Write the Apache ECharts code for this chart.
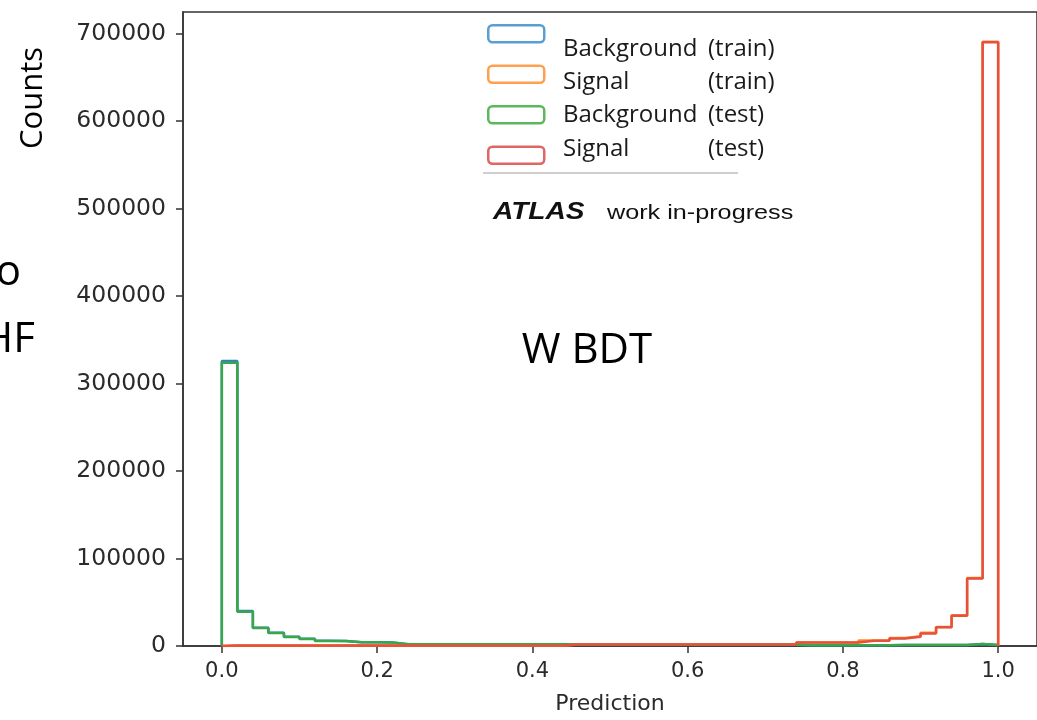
<!DOCTYPE html>
<html>
<head>
<meta charset="utf-8">
<script src="https://cdn.jsdelivr.net/npm/echarts@6/dist/echarts.min.js"></script>
<style>
  html, body { margin: 0; padding: 0; background: #fff; }
  #chart { width: 1037px; height: 720px; }
</style>
</head>
<body>
<div id="chart"></div>
<script>
// ---- Data ----
const binWidth = 0.02;
const binCount = 50;
const xTicks = [0, 0.2, 0.4, 0.6, 0.8, 1.0];
const yTicks = [0, 100000, 200000, 300000, 400000, 500000, 600000, 700000];
const seriesNames = ['Background (train)', 'Signal (train)', 'Background (test)', 'Signal (test)'];

// Background (train), 50 bins of width 0.02 from 0 to 1
const bkgTrain = [
  325600, 40000, 20900, 15000, 10500, 8200, 5900, 5800, 4300, 4200,
  4100, 1900, 1900, 1900, 1900, 1900, 1900, 1900, 1900, 1900,
  1900, 1900, 1400, 1400, 1400, 1400, 1400, 1400, 1400, 1400,
  1400, 1400, 1400, 1400, 1400, 1400, 1400, 800, 800, 800,
  800, 800, 800, 1100, 1100, 1100, 1100, 1100, 2200, 1200
];
// Signal (train)
const sigTrain = [
  700, 700, 700, 700, 700, 700, 700, 700, 700, 700,
  700, 700, 700, 700, 700, 700, 700, 700, 700, 700,
  700, 700, 1800, 1800, 1800, 1800, 1800, 1800, 1800, 1800,
  1800, 1800, 1800, 1800, 1800, 1800, 1800, 4100, 4100, 4100,
  4100, 6400, 6400, 9200, 11200, 15000, 21700, 35000, 77600, 690500
];
// Background (test)
const bkgTest = [
  323800, 39000, 20500, 14800, 10300, 8000, 5700, 5700, 4200, 4200,
  4100, 1900, 1900, 1900, 1900, 1900, 1900, 1900, 1900, 1900,
  1900, 1900, 1400, 1400, 1400, 1400, 1400, 1400, 1400, 1400,
  1400, 1400, 1400, 1400, 1400, 1400, 1400, 800, 800, 800,
  800, 800, 800, 1100, 1100, 1100, 1100, 1100, 2200, 1200
];
// Signal (test)
const sigTest = [
  700, 700, 700, 700, 700, 700, 700, 700, 700, 700,
  700, 700, 700, 700, 700, 700, 700, 700, 700, 700,
  700, 700, 1700, 1700, 1700, 1700, 1700, 1700, 1700, 1700,
  1700, 1700, 1700, 1700, 1700, 1700, 1700, 4000, 4000, 4000,
  4000, 6100, 6100, 8700, 10600, 14400, 21300, 34600, 77200, 690000
];

const colors = ['#2f80bf', '#ff8a24', '#3aa64a', '#e6503c'];
const legendColors = ['#5a9fd4', '#ffa050', '#5cb85c', '#e06666'];

// histogram step path: points at the left edge of each bin, closed at the last edge
function stepPoints(vals) {
  const pts = [[0, 0]];
  for (let i = 0; i < vals.length; i++) pts.push([i * binWidth, vals[i]]);
  pts.push([binCount * binWidth, vals[vals.length - 1]]);
  pts.push([binCount * binWidth, 0]);
  return pts;
}

const allVals = [bkgTrain, sigTrain, bkgTest, sigTest];

const chart = echarts.init(document.getElementById('chart'), null, { renderer: 'canvas' });

const option = {
  backgroundColor: '#ffffff',
  animation: false,
  grid: {
    left: 183, top: 12, width: 857, height: 635,
    show: true, borderColor: '#333', borderWidth: 1.5, backgroundColor: 'transparent'
  },
  xAxis: {
    type: 'value', min: -0.05, max: 1.05,
    splitLine: { show: false },
    axisLine: { show: true, onZero: false, lineStyle: { color: '#333', width: 1.5 } },
    axisTick: { show: true, customValues: xTicks, length: 7, lineStyle: { color: '#333', width: 1.5 } },
    axisLabel: {
      customValues: xTicks, margin: 15,
      formatter: v => v.toFixed(1),
      fontFamily: 'DejaVu Sans', fontSize: 21, color: '#2a2a2a'
    },
    name: 'Prediction', nameLocation: 'middle', nameGap: 47,
    nameTextStyle: { fontFamily: 'DejaVu Sans', fontSize: 22, color: '#2a2a2a' }
  },
  yAxis: {
    type: 'value', min: 0, max: 724500,
    splitLine: { show: false },
    axisLine: { show: true, onZero: false, lineStyle: { color: '#333', width: 1.5 } },
    axisTick: { show: true, customValues: yTicks, length: 7, lineStyle: { color: '#333', width: 1.5 } },
    axisLabel: {
      customValues: yTicks, margin: 17,
      formatter: v => String(v),
      fontFamily: 'DejaVu Sans', fontSize: 23.5, color: '#2a2a2a'
    }
  },
  legend: [
    {
      orient: 'vertical', left: 487, top: 24, padding: 0,
      itemWidth: 56, itemHeight: 17, itemGap: 21,
      formatter: () => '',
      textStyle: { fontSize: 1 },
      data: seriesNames.map((n, i) => ({
        name: n, icon: 'roundRect',
        itemStyle: { color: 'rgba(255,255,255,0)', borderColor: legendColors[i], borderWidth: 2.5 }
      }))
    },
    {
      orient: 'vertical', left: 552, top: 31,
      itemWidth: 1, itemHeight: 1, itemGap: 7.3,
      formatter: name => {
        const idx = name.indexOf(' (');
        return '{a|' + name.slice(0, idx) + '}{b|' + name.slice(idx + 1) + '}';
      },
      textStyle: {
        fontFamily: 'Open Sans', fontSize: 24, color: '#1a1a1a', lineHeight: 26,
        rich: {
          a: { width: 145, fontFamily: 'Open Sans', fontSize: 24, color: '#1a1a1a', lineHeight: 26 },
          b: { fontFamily: 'Open Sans', fontSize: 24, color: '#1a1a1a', lineHeight: 26 }
        }
      },
      data: seriesNames.map(n => ({
        name: n, icon: 'rect',
        itemStyle: { color: 'rgba(255,255,255,0)', borderWidth: 0 }
      }))
    }
  ],
  graphic: [
    { type: 'line', shape: { x1: 483, y1: 173, x2: 738, y2: 173 }, style: { stroke: '#cfcfcf', lineWidth: 2 } },
    { type: 'text', x: 493, y: 212, scaleX: 1.17,
      style: { text: 'ATLAS', font: 'italic bold 24px "Liberation Sans"', fill: '#111', textVerticalAlign: 'middle' } },
    { type: 'text', x: 607, y: 213, scaleX: 1.2,
      style: { text: 'work in-progress', font: '21px "Liberation Sans"', fill: '#111', textVerticalAlign: 'middle' } },
    { type: 'text', x: 587, y: 351,
      style: { text: 'W BDT', font: '42px "Open Sans"', fill: '#000', textAlign: 'center', textVerticalAlign: 'middle' } },
    { type: 'text', x: 33, y: 98, rotation: Math.PI / 2,
      style: { text: 'Counts', font: '31px "Open Sans"', fill: '#000', textAlign: 'center', textVerticalAlign: 'middle' } },
    { type: 'text', x: 21, y: 273,
      style: { text: 'o', font: '42px "Open Sans"', fill: '#000', textAlign: 'right', textVerticalAlign: 'middle' } },
    { type: 'text', x: 35, y: 340,
      style: { text: 'HF', font: '42px "Open Sans"', fill: '#000', textAlign: 'right', textVerticalAlign: 'middle' } }
  ],
  series: seriesNames.map((n, i) => ({
    name: n, type: 'line', step: 'end',
    data: stepPoints(allVals[i]),
    showSymbol: false, symbol: 'none',
    lineStyle: { color: colors[i], width: 2.5 },
    itemStyle: { color: colors[i] },
    z: 2 + i
  }))
};

chart.setOption(option);
</script>
</body>
</html>
